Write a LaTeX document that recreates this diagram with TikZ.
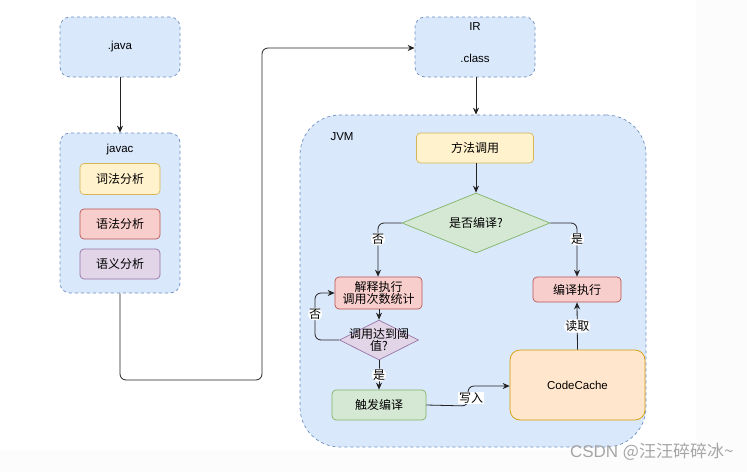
\documentclass[tikz,border=0pt]{standalone}
\usepackage{fontspec}
\setmainfont{Liberation Sans}
\newfontfamily\cjk{Noto Sans CJK SC}
\usetikzlibrary{arrows.meta,shapes.geometric}
\definecolor{bluefill}{HTML}{DAE8FC}
\definecolor{bluedraw}{HTML}{6C8EBF}
\definecolor{yelfill}{HTML}{FFF2CC}
\definecolor{yeldraw}{HTML}{D6B656}
\definecolor{redfill}{HTML}{F8CECC}
\definecolor{reddraw}{HTML}{B85450}
\definecolor{purfill}{HTML}{E1D5E7}
\definecolor{purdraw}{HTML}{9673A6}
\definecolor{grnfill}{HTML}{D5E8D4}
\definecolor{grndraw}{HTML}{82B366}
\definecolor{orfill}{HTML}{FFE6CC}
\definecolor{ordraw}{HTML}{D79B00}
\definecolor{offwhite}{HTML}{FCFCFC}
\definecolor{linecol}{HTML}{222222}
\tikzset{
  x=1pt, y=-1pt,
  every node/.style={font=\fontsize{11.5}{13}\selectfont},
  cjkfont/.style={font=\cjk\fontsize{12}{14}\selectfont},
  container/.style={draw=bluedraw, fill=bluefill, dash pattern=on 3pt off 3pt, line width=0.7pt, rounded corners=10pt},
  procbox/.style={rounded corners=4pt, line width=0.7pt, inner sep=0pt, cjkfont, align=center},
  ybox/.style={procbox, draw=yeldraw, fill=yelfill},
  rbox/.style={procbox, draw=reddraw, fill=redfill},
  pbox/.style={procbox, draw=purdraw, fill=purfill},
  gbox/.style={procbox, draw=grndraw, fill=grnfill},
  conn/.style={draw=linecol, line width=0.8pt, rounded corners=6pt, -{Stealth[length=7pt,width=6pt]}},
  lbl/.style={fill=white, inner sep=1pt, cjkfont},
}
\begin{document}
\begin{tikzpicture}
\useasboundingbox (0,0) rectangle (747,472);
\fill[white] (0,0) rectangle (747,472);
\fill[offwhite] (696,0) rectangle (747,472);
\fill[offwhite] (0,450) rectangle (747,472);

% java source
\node[container, minimum width=120pt, minimum height=60pt] (java) at (120,47) {.java};
% javac
\node[container, minimum width=120pt, minimum height=160pt] (javac) at (120,213) {};
\node (javact) at (120,150) {javac};
\node[ybox, minimum width=80pt, minimum height=31pt] (lex) at (120,179) {词法分析};
\node[rbox, minimum width=80pt, minimum height=30pt] (syn) at (120,224) {语法分析};
\node[pbox, minimum width=80pt, minimum height=30pt] (sem) at (120,264) {语义分析};

% IR
\node[container, minimum width=120pt, minimum height=60pt] (ir) at (475,47) {};
\node (irt) at (475,27) {IR};
\node (cls) at (475,58) {.class};

% JVM
\node[container, rounded corners=40pt, minimum width=346pt, minimum height=332pt] (jvm) at (473,281) {};
\node (jvmt) at (342,137) {JVM};

\node[ybox, minimum width=117pt, minimum height=30pt] (call) at (475,148) {方法调用};
\node[diamond, draw=grndraw, fill=grnfill, line width=0.7pt, minimum width=148pt, minimum height=60pt, aspect=2.47, inner sep=0pt] (dec) at (476,223) {};
\node[cjkfont] at (dec.center) {是否编译?};
\node[rbox, minimum width=87pt, minimum height=32pt] (interp) at (378.5,293) {解释执行\\[-2pt]调用次数统计};
\node[rbox, minimum width=88pt, minimum height=25pt] (comp) at (577,289.5) {编译执行};
\node[diamond, draw=purdraw, fill=purfill, line width=0.7pt, minimum width=79pt, minimum height=40pt, aspect=1.97, inner sep=0pt] (thr) at (379,340) {};
\node[cjkfont, align=center] at (thr.center) {调用达到阈\\[-2pt]值?};
\node[gbox, minimum width=94pt, minimum height=30pt] (trig) at (379,405) {触发编译};
\node[rounded corners=10pt, draw=ordraw, fill=orfill, line width=0.7pt, minimum width=135pt, minimum height=70pt] (cache) at (577.5,385) {CodeCache};

% connectors
\draw[conn] (java.south) -- (javac.north);
\draw[conn] (javac.south) -- (120,380) -- (262,380) -- (262,48) -- (ir.west |- 0,48);
\draw[conn] (ir.south -| 476,0) -- (jvm.north -| 476,0);
\draw[conn] (call.south -| 476,0) -- (dec.north);
\draw[conn] (dec.west) -- (378,223) -- (interp.north -| 378,0) node[lbl, pos=0.3] {否};
\draw[conn] (dec.east) -- (577,223) -- (comp.north) node[lbl, pos=0.3] {是};
\draw[conn] (interp.south -| 379,0) -- (thr.north);
\draw[conn] (thr.west) -- (315,340) -- (315,293) -- (interp.west) node[lbl, pos=0.0, yshift=-21pt] {否};
\draw[conn] (thr.south) -- (trig.north) node[lbl, midway] {是};
\draw[conn] (trig.east) -- (468,406) -- (468,386) -- (cache.west |- 0,386);
\node[lbl] at (471,398) {写入};
\draw[conn] (cache.north) -- (comp.south) node[lbl, midway] {读取};

% watermark
\node[text=gray!70, font=\fontsize{17}{19}\selectfont, anchor=east] (wm) at (737,452) {CSDN {\cjk\fontsize{17}{19}\selectfont @汪汪碎碎冰\textasciitilde}};
\end{tikzpicture}
\end{document}
